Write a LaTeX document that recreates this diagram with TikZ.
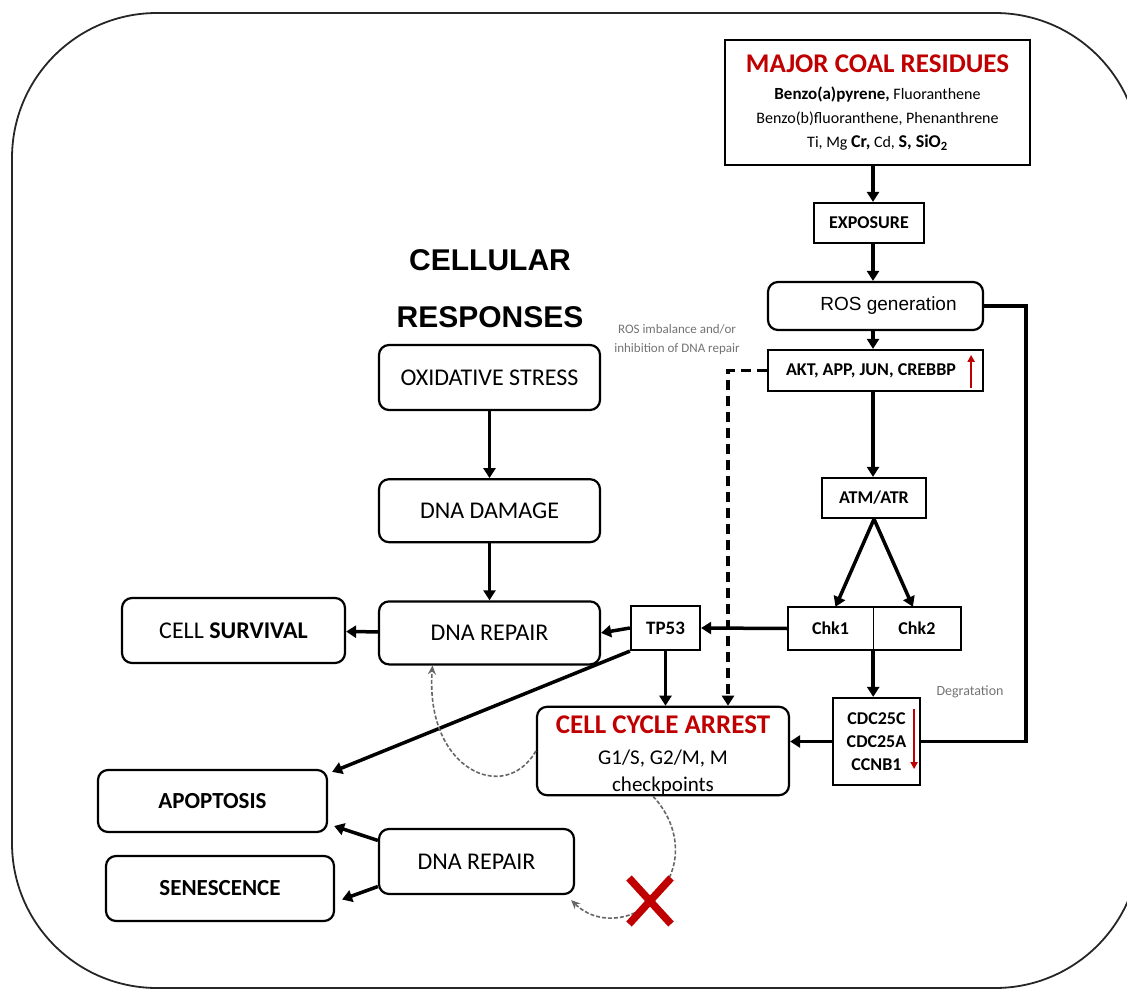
\documentclass[tikz,border=0pt]{standalone}
\usepackage{fontspec}
\setmainfont{Carlito}
\newfontfamily\arialfont{Liberation Sans}
\usetikzlibrary{arrows.meta,positioning,calc}
\definecolor{coalred}{RGB}{192,0,0}
\tikzset{
  box/.style={draw, line width=2.2pt, inner sep=2pt, align=center, font=\bfseries\fontsize{18}{21}\selectfont},
  rbox/.style={box, rounded corners=10pt, font=\fontsize{24}{28}\selectfont},
  arrow/.style={-{Triangle[length=10pt,width=12pt]}, line width=3.5pt},
  dasharrow/.style={arrow, dash pattern=on 10pt off 6pt},
  link/.style={line width=3.5pt},
  uparrow/.style={-{Triangle[length=7pt,width=7pt]}, line width=2pt, draw=coalred},
  loop/.style={-{Stealth[length=9pt,width=8pt]}, draw=black!60, line width=1.6pt, dash pattern=on 4pt off 2pt},
  note/.style={text=black!55, align=center, font=\fontsize{13}{19}\selectfont},
  cross/.style={draw=coalred, line width=7.5pt},
  frame/.style={draw=black!85, line width=1.8pt, rounded corners=145pt},
}

\begin{document}
\begin{tikzpicture}[x=1pt, y=-1pt]
\useasboundingbox (0,0) rectangle (1127,990);
\draw[frame] (12,13) rectangle (1140,988);
\coordinate (spine) at (873,0);

% exposure side
\node[box, minimum width=305pt, minimum height=125pt, font=\fontsize{16}{24}\selectfont] (res) at (877.5,102.5)
  {{\bfseries\fontsize{27}{30}\selectfont\color{coalred}MAJOR COAL RESIDUES}\\[3pt]
   \textbf{\fontsize{17}{24}\selectfont Benzo(a)pyrene,} Fluoranthene\\
   Benzo(b)fluoranthene, Phenanthrene\\
   Ti, Mg \textbf{\fontsize{18}{24}\selectfont Cr,} Cd, \textbf{\fontsize{18}{24}\selectfont S, SiO\textsubscript{2}}};
\node[box, minimum width=110pt, minimum height=40pt] (exp) at (869,223) {EXPOSURE};
\node[box, rounded corners=10pt, minimum width=215pt, minimum height=48pt, font=\arialfont\fontsize{19}{22}\selectfont] (ros) at (875.5,306) {\hspace*{26pt}ROS generation};
\node[box, minimum width=215pt, minimum height=41pt] (akt) at (875.5,370.5) {AKT, APP, JUN, CREBBP\hspace*{9pt}};
\node[box, minimum width=104pt, minimum height=40pt] (atm) at (874,498) {ATM/ATR};
\node[minimum width=85pt, minimum height=43pt, inner sep=0pt, font=\bfseries\fontsize{18}{21}\selectfont] (chk1) at (830.5,628.5) {Chk1};
\node[minimum width=87pt, minimum height=43pt, inner sep=0pt, font=\bfseries\fontsize{18}{21}\selectfont, right=0pt of chk1] (chk2) {Chk2};
\draw[line width=2.2pt] (chk1.north west) rectangle (chk2.south east);
\draw[line width=0.8pt] (chk1.north east) -- (chk1.south east);
\node[box, minimum width=87pt, minimum height=87pt, font=\bfseries\fontsize{18}{23}\selectfont] (cdc) at (876.5,741.5) {CDC25C\\CDC25A\\CCNB1};
\node[box, minimum width=69pt, minimum height=44pt, font=\bfseries\fontsize{19}{22}\selectfont] (tp) at (665.5,628) {TP53};

\draw[uparrow] ([xshift=-13pt,yshift=4pt]akt.south east) -- ([xshift=-13pt,yshift=-6pt]akt.north east);
\draw[uparrow] ([xshift=-7pt,yshift=-12pt]cdc.north east) -- ([xshift=-7pt,yshift=17pt]cdc.south east);

\node[note] (imb) at (677,340) {ROS imbalance and/or\\inhibition of DNA repair};
\node[note, font=\fontsize{14}{16}\selectfont] (deg) at (970,692) {Degratation};

% cellular responses
\node[align=center, font=\arialfont\bfseries\fontsize{30}{57}\selectfont] (title) at (490,289) {CELLULAR\\RESPONSES};
\node[rbox, minimum width=221pt, minimum height=65pt] (ox) at (489.5,377.5) {OXIDATIVE STRESS};
\node[rbox, minimum width=221pt, minimum height=63pt, below=67pt of ox] (dd) {DNA DAMAGE};
\node[rbox, minimum width=221pt, minimum height=63pt, below=57pt of dd] (rep) {DNA REPAIR};
\node[rbox, minimum width=223pt, minimum height=65pt] (surv) at (233.5,630.5) {CELL \textbf{SURVIVAL}};
\node[rbox, minimum width=229pt, minimum height=62pt, font=\bfseries\fontsize{23}{28}\selectfont] (apo) at (212.5,801) {APOPTOSIS};
\node[rbox, minimum width=228pt, minimum height=65pt, font=\bfseries\fontsize{23}{28}\selectfont] (sen) at (220,888.5) {SENESCENCE};
\node[rbox, minimum width=195pt, minimum height=65pt] (rep2) at (476.5,861.5) {DNA REPAIR};
\node[rbox, minimum width=252pt, minimum height=88pt, inner ysep=0pt, font=\fontsize{21}{27}\selectfont] (cca) at (663,751)
  {\rule{0pt}{27pt}{\bfseries\fontsize{27}{30}\selectfont\color{coalred}CELL CYCLE ARREST}\\[4pt] G1/S, G2/M, M\\ checkpoints};

% connectors
\draw[arrow] (res.south -| spine) -- (exp.north -| spine);
\draw[arrow] (exp.south -| spine) -- (ros.north -| spine);
\draw[arrow] (ros.south -| spine) -- (akt.north -| spine);
\draw[arrow] (akt.south -| spine) -- (atm.north -| spine);
\draw[arrow] (atm.south) -- ([xshift=5pt]chk1.north);
\draw[arrow] (atm.south) -- ([xshift=-4pt]chk2.north);
\draw[arrow] (chk1.south east) -- (chk1.south east |- cdc.north);
\draw[arrow] (chk1.west) -- (tp.east);
\draw[arrow] (cdc.west) -- (cdc.west -| cca.east);
\draw[link] (ros.east) -- ++(42,0) |- (cdc.east);
\draw[dasharrow] (akt.west) -| ([xshift=65pt]cca.north);
\draw[arrow] (tp.west) -- (rep.east);
\draw[arrow] (tp.south) -- (tp.south |- cca.north);
\draw[arrow] (tp.south west) -- ([xshift=4pt,yshift=-3pt]apo.north east);
\draw[arrow] (ox) -- (dd);
\draw[arrow] (dd) -- (rep);
\draw[arrow] (rep) -- (surv);
\draw[arrow] ([yshift=21pt]rep2.west) -- ([xshift=6pt,yshift=-25pt]apo.east);
\draw[arrow] ([yshift=-25pt]rep2.west) -- ([xshift=7pt,yshift=-11pt]sen.east);
\draw[loop] (cca.west) .. controls (505,805) and (425,770) .. ([xshift=-57pt]rep.south);
\draw[loop] ([xshift=-10pt]cca.south) .. controls (680,825) and (683,865) .. (660,892)
  .. controls (640,920) and (600,928) .. ([xshift=-4pt,yshift=-5pt]rep2.south east);

% blocked repair
\coordinate (stop) at (650,901);
\draw[cross] ($(stop)+(-21,-23)$) -- ($(stop)+(21,23)$);
\draw[cross] ($(stop)+(21,-23)$) -- ($(stop)+(-21,23)$);
\end{tikzpicture}
\end{document}
